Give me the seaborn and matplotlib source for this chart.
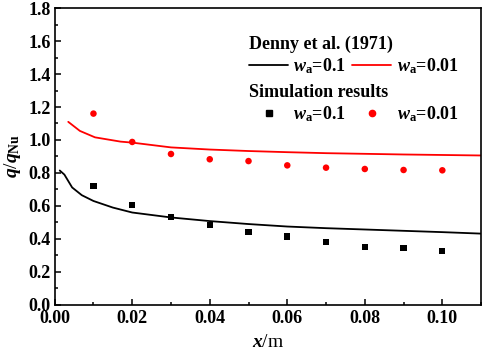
import matplotlib
matplotlib.use("Agg")
import matplotlib.pyplot as plt
from matplotlib.lines import Line2D
from matplotlib.ticker import MultipleLocator, FormatStrFormatter
import seaborn as sns

# style
sns.set_theme(style="ticks")
plt.rcParams['font.family'] = ['Liberation Serif', 'DejaVu Serif']
plt.rcParams['font.weight'] = 'bold'
plt.rcParams['mathtext.fontset'] = 'custom'
plt.rcParams['mathtext.rm'] = 'Liberation Serif:bold'
plt.rcParams['mathtext.it'] = 'Liberation Serif:italic:bold'
plt.rcParams['mathtext.bf'] = 'Liberation Serif:bold'
for k in ['text.color', 'axes.labelcolor', 'xtick.color', 'ytick.color', 'axes.edgecolor']:
    plt.rcParams[k] = 'black'

# Denny et al. (1971) curves
x_denny_01 = [0.0013, 0.0025, 0.0045, 0.007, 0.010, 0.015, 0.020, 0.030, 0.040,
              0.050, 0.060, 0.070, 0.080, 0.090, 0.100, 0.110]
q_denny_01 = [0.815, 0.790, 0.712, 0.665, 0.630, 0.590, 0.560, 0.530, 0.508,
              0.490, 0.475, 0.465, 0.457, 0.449, 0.441, 0.432]
x_denny_001 = [0.0035, 0.0065, 0.0104, 0.017, 0.020, 0.030, 0.040, 0.050,
               0.060, 0.070, 0.080, 0.090, 0.100, 0.110]
q_denny_001 = [1.110, 1.055, 1.016, 0.990, 0.984, 0.955, 0.942, 0.933,
               0.926, 0.920, 0.916, 0.912, 0.909, 0.906]

# simulation results
x_sim = [0.01, 0.02, 0.03, 0.04, 0.05, 0.06, 0.07, 0.08, 0.09, 0.10]
q_sim_01 = [0.720, 0.607, 0.534, 0.484, 0.443, 0.415, 0.379, 0.352, 0.344, 0.328]
q_sim_001 = [1.160, 0.988, 0.915, 0.883, 0.872, 0.846, 0.832, 0.824, 0.818, 0.816]

fig = plt.figure(figsize=(4.84, 3.52), dpi=100)
ax = fig.add_axes([0.113, 0.134, 0.881, 0.843])

black = '#000000'
red = '#ff0000'

sns.lineplot(x=x_denny_01, y=q_denny_01, ax=ax, color=black, linewidth=1.3,
             estimator=None, sort=False)
sns.lineplot(x=x_denny_001, y=q_denny_001, ax=ax, color=red, linewidth=1.3,
             estimator=None, sort=False)
sns.scatterplot(x=x_sim, y=q_sim_01, ax=ax, color=black, marker='s', s=20,
                edgecolor='none')
sns.scatterplot(x=x_sim, y=q_sim_001, ax=ax, color=red, marker='o', s=22,
                edgecolor='none')

ax.set_xlim(0, 0.11)
ax.set_ylim(0, 1.8)
ax.xaxis.set_major_locator(MultipleLocator(0.02))
ax.xaxis.set_minor_locator(MultipleLocator(0.01))
ax.yaxis.set_major_locator(MultipleLocator(0.2))
ax.yaxis.set_minor_locator(MultipleLocator(0.1))
ax.xaxis.set_major_formatter(FormatStrFormatter('%.2f'))
ax.yaxis.set_major_formatter(FormatStrFormatter('%.1f'))
ax.tick_params(which='both', direction='in', labelsize=13, width=1.1,
               top=False, right=False)
ax.tick_params(axis='x', which='both', pad=4)
ax.tick_params(axis='y', which='both', pad=3)
ax.tick_params(which='major', length=4.5)
ax.tick_params(which='minor', length=2.5)
for sp in ax.spines.values():
    sp.set_linewidth(1.2)

ax.set_xlabel(r'$x$/m', fontsize=14, labelpad=5)
ax.set_ylabel(r'$q$/$q_{\rm Nu}$', fontsize=14, labelpad=4)

# legends
lab01 = r'$w_{\rm a}$=0.1'
lab001 = r'$w_{\rm a}$=0.01'
h_lines = [Line2D([], [], color=black, lw=1.3), Line2D([], [], color=red, lw=1.3)]
h_pts = [Line2D([], [], color=black, marker='s', ms=4.2, ls='None'),
         Line2D([], [], color=red, marker='o', ms=4.5, ls='None')]
leg_kw = dict(ncol=2, frameon=False, fontsize=13, handlelength=2.15,
              handletextpad=0.3, columnspacing=0.35, alignment='left',
              borderaxespad=0, borderpad=0, title_fontsize=13, labelspacing=0.2)
leg1 = ax.legend(h_lines, [lab01, lab001], title='Denny et al. (1971)',
                 loc='upper left', bbox_to_anchor=(0.456, 0.907), **leg_kw)
leg1.get_title().set_fontweight('bold')
ax.add_artist(leg1)
leg2 = ax.legend(h_pts, [lab01, lab001], title='Simulation results',
                 loc='upper left', bbox_to_anchor=(0.456, 0.744), **leg_kw)
leg2.get_title().set_fontweight('bold')

fig.savefig('out.png', dpi=100)
